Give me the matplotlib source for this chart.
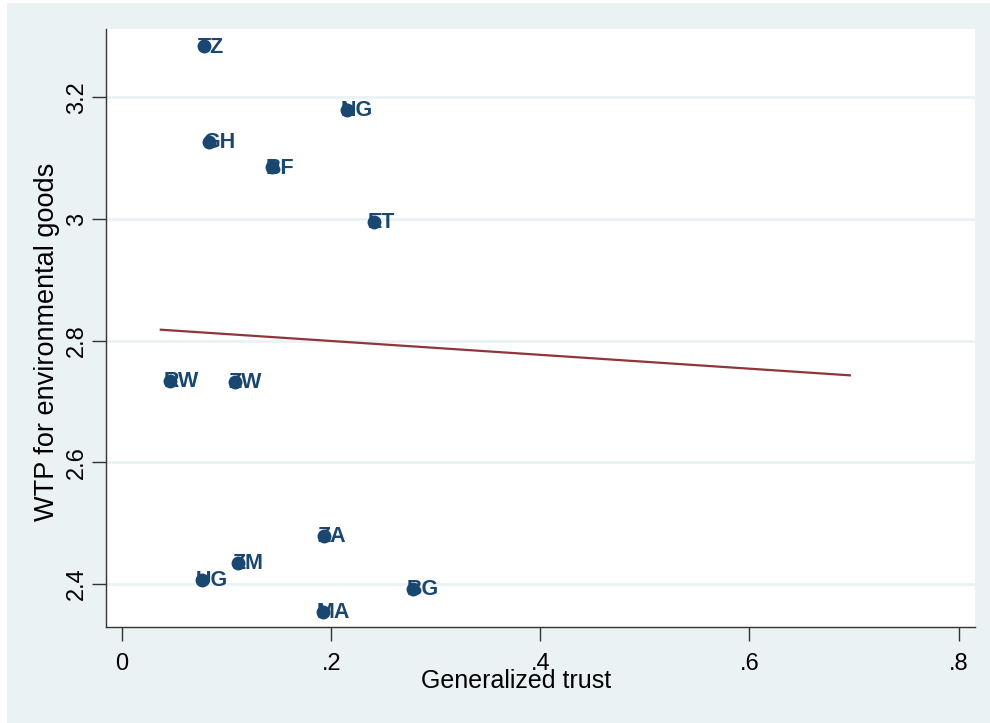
import matplotlib.pyplot as plt
from matplotlib.patches import Rectangle

# country codes, generalized trust (x) and WTP (y)
countries = ['TZ', 'NG', 'GH', 'BF', 'ET', 'RW', 'ZW', 'ZA', 'ZM', 'UG', 'BG', 'MA']
trust = [0.078, 0.215, 0.083, 0.143, 0.241, 0.046, 0.108, 0.193, 0.111, 0.076, 0.278, 0.192]
wtp = [3.284, 3.179, 3.127, 3.085, 2.995, 2.734, 2.732, 2.479, 2.435, 2.407, 2.392, 2.354]

# linear fit line end points
fit_x = [0.037, 0.696]
fit_y = [2.818, 2.743]

xticks = [0, 0.2, 0.4, 0.6, 0.8]
xtick_labels = ['0', '.2', '.4', '.6', '.8']
yticks = [2.4, 2.6, 2.8, 3.0, 3.2]
ytick_labels = ['2.4', '2.6', '2.8', '3', '3.2']

navy = '#1a476f'
maroon = '#90353b'
bg = '#eaf2f3'

plt.rcParams['font.family'] = ['Liberation Sans', 'DejaVu Sans']

fig = plt.figure(figsize=(9.9, 7.23), dpi=100, facecolor='white')
fig.patches.append(Rectangle((7 / 990, 0), 1 - 7 / 990, 1 - 3 / 723,
                             transform=fig.transFigure, facecolor=bg,
                             edgecolor='none', zorder=-10))
ax = fig.add_axes([106 / 990, 96 / 723, 869 / 990, 598 / 723])
ax.set_facecolor('white')

ax.set_xlim(-0.0154, 0.8157)
ax.set_ylim(2.3293, 3.3123)

for yt in yticks:
    ax.axhline(yt, color=bg, lw=2, zorder=0)

ax.scatter(trust, wtp, s=100, color=navy, zorder=5, linewidths=0)
for c, x, y in zip(countries, trust, wtp):
    ax.annotate(c, (x, y), xytext=(-4.5, 1.2), textcoords='offset points',
                ha='left', va='center_baseline', fontsize=15.5,
                fontweight='bold', color=navy, zorder=4)

ax.plot(fit_x, fit_y, color=maroon, lw=1.6, zorder=2)

for side in ['top', 'right']:
    ax.spines[side].set_visible(False)
for side in ['left', 'bottom']:
    ax.spines[side].set_color('#333333')
    ax.spines[side].set_linewidth(1.0)

ax.set_xticks(xticks)
ax.set_xticklabels(xtick_labels)
ax.set_yticks(yticks)
ax.set_yticklabels(ytick_labels, rotation=90, va='center')
ax.tick_params(axis='both', direction='out', length=10, width=1,
               color='#333333', labelsize=17, labelcolor='black')
ax.tick_params(axis='x', pad=9)
ax.tick_params(axis='y', pad=3)

fig.text(516 / 990, 1 - 681 / 723, 'Generalized trust', fontsize=18,
         ha='center', va='center')
fig.text(47 / 990, 1 - 342 / 723, 'WTP for environmental goods', fontsize=19.5,
         rotation=90, ha='center', va='center')

fig.savefig('out.png', dpi=100, facecolor=fig.get_facecolor())
